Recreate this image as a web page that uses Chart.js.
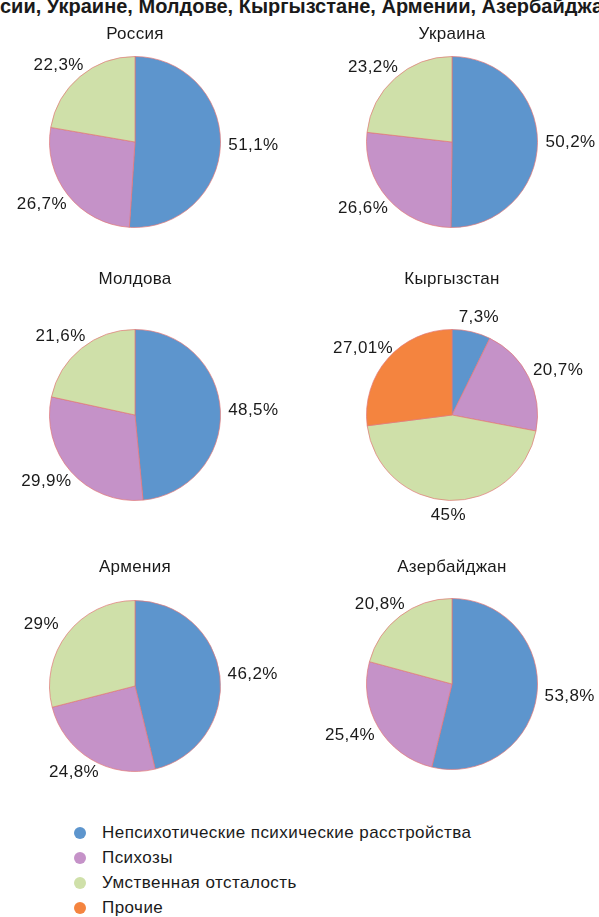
<!DOCTYPE html>
<html>
<head>
<meta charset="utf-8">
<script src="https://cdn.jsdelivr.net/npm/chart.js@4"></script>
<style>
  body { margin: 0; width: 599px; height: 917px; background: #fff; position: relative; overflow: hidden;
         font-family: "Liberation Sans", Arial, sans-serif; color: #1a1a1a; }
  .top { position: absolute; left: 0; top: -4px; width: 599px; white-space: nowrap; overflow: hidden;
         font-weight: bold; font-size: 20px; line-height: 20px; }
  .box { position: absolute; width: 300px; height: 260px; }
  .ttl { position: absolute; width: 200px; text-align: center; font-size: 17px; line-height: 18px; letter-spacing: 0.3px; }
  #legend { position: absolute; left: 74px; top: 823px; font-size: 17px; letter-spacing: 0.45px; }
  .item { height: 25px; line-height: 20px; position: relative; padding-left: 28px; }
  .dot { position: absolute; left: 0; top: 4px; width: 12px; height: 12px; border-radius: 50%; }
</style>
</head>
<body>
<div class="top">сии, Украине, Молдове, Кыргызстане, Армении, Азербайджа</div>
<div id="charts"></div>
<div id="legend"></div>
<script>
// Categories and colours
let categories = ["Непсихотические психические расстройства", "Психозы", "Умственная отсталость", "Прочие"];
let colors = ["#5d95cd", "#c592c8", "#cfe0a9", "#f4843f"];

// Countries and their shares (%)
let countries = ["Россия", "Украина", "Молдова", "Кыргызстан", "Армения", "Азербайджан"];
let russia = [51.1, 26.7, 22.3, 0];
let ukraine = [50.2, 26.6, 23.2, 0];
let moldova = [48.5, 29.9, 21.6, 0];
let kyrgyzstan = [7.3, 20.7, 45, 27.01];
let armenia = [46.2, 24.8, 29, 0];
let azerbaijan = [53.8, 25.4, 20.8, 0];
let labels = [
  ["51,1%", "26,7%", "22,3%", ""],
  ["50,2%", "26,6%", "23,2%", ""],
  ["48,5%", "29,9%", "21,6%", ""],
  ["7,3%", "20,7%", "45%", "27,01%"],
  ["46,2%", "24,8%", "29%", ""],
  ["53,8%", "25,4%", "20,8%", ""]
];
let values = [russia, ukraine, moldova, kyrgyzstan, armenia, azerbaijan];

// Pie centres on the page
let centers = [[135, 142], [452, 142], [135, 415], [452, 415], [135, 686], [452, 684]];
let titleY = [25, 25, 270, 270, 558, 558];

// Labels outside the slices, on an ellipse round the pie
const outLabels = {
  id: 'outLabels',
  afterDatasetsDraw(chart) {
    let ctx = chart.ctx;
    let texts = chart.options.plugins.outLabels.texts;
    ctx.save();
    ctx.font = '17px "Liberation Sans", Arial, sans-serif';
    ctx.letterSpacing = '0.4px';
    ctx.fillStyle = '#1a1a1a';
    ctx.textAlign = 'center';
    ctx.textBaseline = 'middle';
    chart.getDatasetMeta(0).data.forEach((arc, i) => {
      if (!texts[i]) return;
      let p = arc.getProps(['x', 'y', 'startAngle', 'endAngle', 'outerRadius']);
      let mid = (p.startAngle + p.endAngle) / 2;
      let rx = p.outerRadius + 33, ry = p.outerRadius + 15;
      ctx.fillText(texts[i], p.x + Math.cos(mid) * rx, p.y + Math.sin(mid) * ry);
    });
    ctx.restore();
  }
};

let chartsDiv = document.getElementById("charts");
countries.forEach((name, k) => {
  let [cx, cy] = centers[k];
  let box = document.createElement("div");
  box.className = "box";
  box.style.left = (cx - 150) + "px";
  box.style.top = (cy - 130) + "px";
  let canvas = document.createElement("canvas");
  box.appendChild(canvas);
  chartsDiv.appendChild(box);

  let ttl = document.createElement("div");
  ttl.className = "ttl";
  ttl.style.left = (cx - 100) + "px";
  ttl.style.top = titleY[k] + "px";
  ttl.innerHTML = name;
  chartsDiv.appendChild(ttl);

  new Chart(canvas, {
    type: 'pie',
    data: {
      labels: categories,
      datasets: [{
        data: values[k],
        backgroundColor: colors,
        borderColor: 'rgba(225, 120, 120, 0.7)',
        borderWidth: 1,
        hoverOffset: 0
      }]
    },
    options: {
      responsive: true,
      maintainAspectRatio: false,
      animation: false,
      layout: { padding: { top: 44, bottom: 44 } },
      plugins: {
        legend: { display: false },
        tooltip: { enabled: false },
        outLabels: { texts: labels[k] }
      }
    },
    plugins: [outLabels]
  });
});

// Shared legend
let legend = document.getElementById("legend");
categories.forEach((c, i) => {
  let item = document.createElement("div");
  item.className = "item";
  item.innerHTML = `<span class="dot" style="background:${colors[i]}"></span>${c}`;
  legend.appendChild(item);
});
</script>
</body>
</html>
